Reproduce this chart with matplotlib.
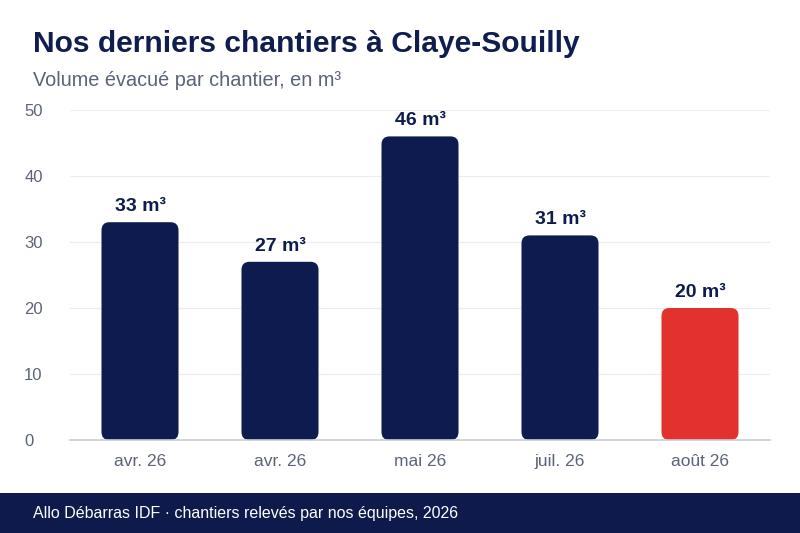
import matplotlib
matplotlib.use("Agg")
import matplotlib.pyplot as plt
from matplotlib.patches import FancyBboxPatch, Rectangle

plt.rcParams['font.family'] = ['Liberation Sans', 'DejaVu Sans']

categories = ["avr. 26", "avr. 26", "mai 26", "juil. 26", "août 26"]
values = [33, 27, 46, 31, 20]
labels = ["33 m³", "27 m³", "46 m³", "31 m³", "20 m³"]
yticks = [0, 10, 20, 30, 40, 50]

NAVY = "#0e1b4e"
RED = "#e3312d"
GREY = "#5b6377"

W, H = 800, 533
fig = plt.figure(figsize=(W / 100, H / 100), dpi=100)
fig.patch.set_facecolor("white")

ax_l, ax_r, ax_t, ax_b = 70, 770, 110, 440
ax = fig.add_axes([ax_l / W, (H - ax_b) / H, (ax_r - ax_l) / W, (ax_b - ax_t) / H])
ax.set_xlim(-0.5, len(values) - 0.5)
ax.set_ylim(0, 50)

px_per_x = (ax_r - ax_l) / len(values)
px_per_y = (ax_b - ax_t) / 50.0
radius_px = 8
bar_w = 0.55

bars = ax.bar(range(len(values)), values, width=bar_w)
for i, b in enumerate(bars):
    b.set_visible(False)
    color = RED if i == len(values) - 1 else NAVY
    p = FancyBboxPatch((b.get_x(), b.get_y()), b.get_width(), b.get_height(),
                       boxstyle=f"round,pad=0,rounding_size={radius_px / px_per_x}",
                       mutation_aspect=px_per_x / px_per_y,
                       facecolor=color, edgecolor="none", zorder=3)
    ax.add_patch(p)
    ax.annotate(labels[i], (b.get_x() + b.get_width() / 2, values[i]),
                xytext=(0, 8), textcoords="offset points",
                ha="center", va="baseline", fontsize=14, fontweight="bold",
                color=NAVY, zorder=4)

ax.set_yticks(yticks)
ax.set_yticklabels([str(t) for t in yticks])
ax.set_xticks(range(len(values)))
ax.set_xticklabels(categories)
ax.grid(axis="y", color="#ececf1", linewidth=0.8, zorder=0)
ax.set_axisbelow(True)
for s in ["top", "right", "left"]:
    ax.spines[s].set_visible(False)
ax.spines["bottom"].set_color("#c9ccd6")
ax.spines["bottom"].set_linewidth(1.2)
ax.spines["bottom"].set_zorder(5)
ax.tick_params(axis="both", length=0)
ax.tick_params(axis="y", labelsize=12, labelcolor=GREY, pad=33)
for t in ax.get_yticklabels():
    t.set_horizontalalignment("left")
ax.tick_params(axis="x", labelsize=12.5, labelcolor=GREY, pad=10)

fig.text(33 / W, 1 - 52 / H, "Nos derniers chantiers à Claye-Souilly",
         fontsize=21.6, fontweight="bold", color="#0f1d4f", va="baseline", ha="left")
fig.text(33 / W, 1 - 86 / H, "Volume évacué par chantier, en m³",
         fontsize=14.3, color=GREY, va="baseline", ha="left")

fig.patches.append(Rectangle((0, 0), 1, 40 / H, transform=fig.transFigure,
                             facecolor="#0d1a4b", edgecolor="none", zorder=0))
fig.text(33 / W, 1 - 518 / H, "Allo Débarras IDF · chantiers relevés par nos équipes, 2026",
         fontsize=11.5, color="white", va="baseline", ha="left")

fig.savefig("out.png", dpi=100, facecolor="white")
